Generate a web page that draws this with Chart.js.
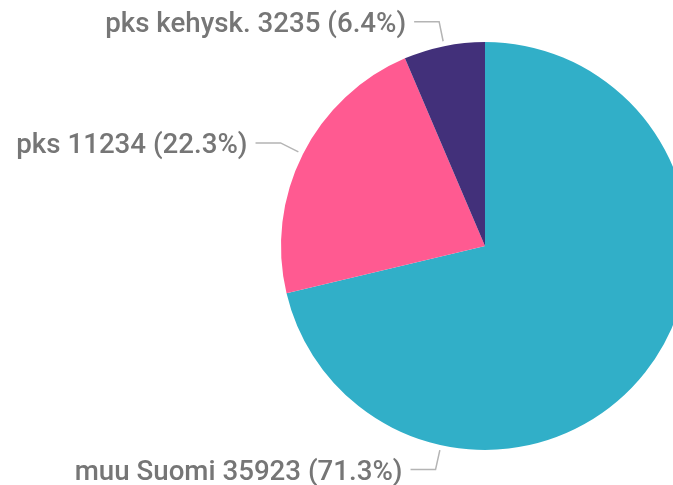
<!DOCTYPE html>
<html>
<head>
<meta charset="utf-8">
<script src="https://cdn.jsdelivr.net/npm/chart.js@4"></script>
<style>
  html, body { margin: 0; padding: 0; background: #fff; overflow: hidden; }
  #wrap { width: 673px; height: 485px; overflow: hidden; }
</style>
</head>
<body>
<div id="wrap"><canvas id="pie" width="720" height="485"></canvas></div>
<script>
// Chart data
const categories = ['muu Suomi', 'pks', 'pks kehysk.'];
const counts = [35923, 11234, 3235];
const percents = ['71.3%', '22.3%', '6.4%'];
const sliceColors = ['#31AFC8', '#FF5A91', '#42307A'];

// where along each slice the leader line starts (0 = start, 1 = end)
const labelAt = [0.75, 0.5, 0.5];

const outsideLabels = {
    id: 'outsideLabels',
    afterDatasetsDraw: (chart) => {
        const { ctx } = chart;
        const meta = chart.getDatasetMeta(0);
        ctx.save();
        ctx.font = '500 27.7px Roboto, "Noto Sans", sans-serif';
        ctx.textAlign = 'right';
        ctx.textBaseline = 'alphabetic';
        meta.data.forEach((arc, i) => {
            const a = arc.startAngle + (arc.endAngle - arc.startAngle) * labelAt[i];
            const cos = Math.cos(a), sin = Math.sin(a);
            const r0 = arc.outerRadius + 5;
            const r1 = arc.outerRadius + 25;
            const x0 = arc.x + cos * r0, y0 = arc.y + sin * r0;
            const x1 = arc.x + cos * r1, y1 = arc.y + sin * r1;
            const x2 = x1 - 25;

            ctx.strokeStyle = '#b4b4b4';
            ctx.lineWidth = 1.5;
            ctx.beginPath();
            ctx.moveTo(x0, y0);
            ctx.lineTo(x1, y1);
            ctx.lineTo(x2, y1);
            ctx.stroke();

            ctx.fillStyle = '#767676';
            ctx.fillText(categories[i] + ' ' + counts[i] + ' (' + percents[i] + ')', x2 - 8, y1 + 10);
        });
        ctx.restore();
    }
};

const ctx = document.getElementById('pie').getContext('2d');
new Chart(ctx, {
    type: 'pie',
    data: {
        labels: categories,
        datasets: [{
            data: counts,
            backgroundColor: sliceColors,
            borderWidth: 0
        }]
    },
    options: {
        responsive: false,
        animation: false,
        layout: {
            padding: { top: 42, bottom: 35, left: 281, right: 31 }
        },
        plugins: {
            legend: { display: false },
            tooltip: { enabled: false }
        }
    },
    plugins: [outsideLabels]
});
</script>
</body>
</html>
